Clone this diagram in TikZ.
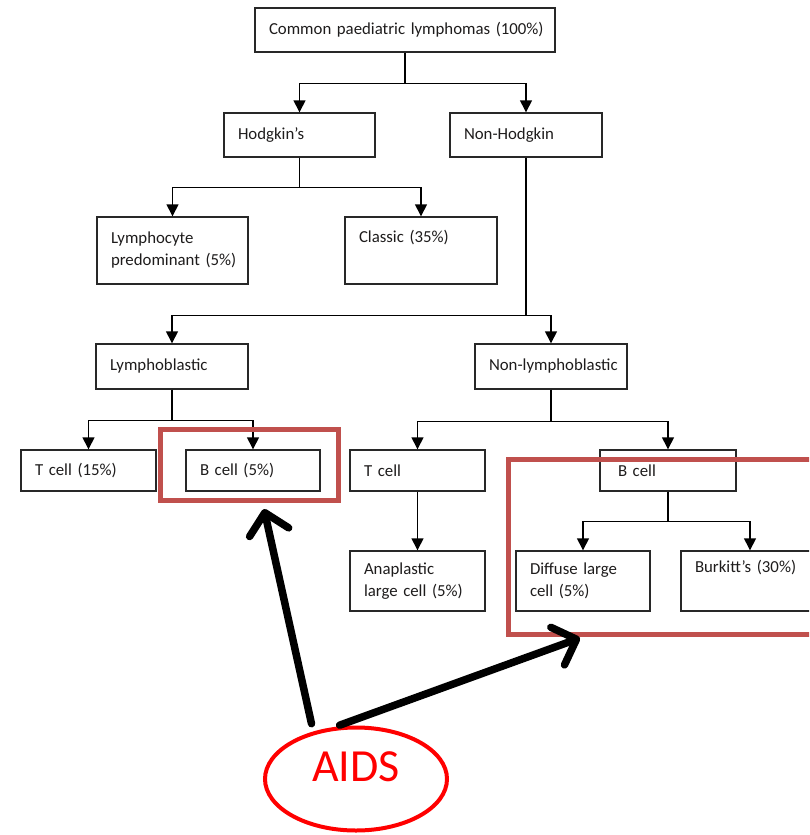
\documentclass[tikz,border=0pt]{standalone}
\usepackage{fontspec}
\setmainfont{Carlito}
\newfontfamily\aidsfont{Carlito}
\usetikzlibrary{arrows.meta,shapes.geometric}
\definecolor{boxc}{RGB}{40,40,40}
\definecolor{txtc}{RGB}{30,28,28}
\definecolor{hlred}{RGB}{192,80,77}
\begin{document}
\begin{tikzpicture}[x=1pt,y=-1pt,
  bx/.style n args={3}{draw=boxc, line width=1.4pt, rectangle, minimum width=#1, minimum height=#2, text width=#3, align=left, inner xsep=14pt, inner ysep=0pt, text=txtc, font=\fontsize{16.8}{22}\selectfont},
  conn/.style={draw=black, line width=1.4pt, -{Triangle[length=12pt,width=12pt]}},
  hl/.style={draw=hlred, line width=5pt, rectangle, inner sep=0pt},
  bigarrow/.style={line width=7.5pt, line cap=round, -{Straight Barb[length=20pt,width=40pt,line width=7.5pt,round]}}]
\clip (0,0) rectangle (809,835);
\fill[white] (0,0) rectangle (809,835);
% boxes
\node[bx={300pt}{44pt}{272pt}] (top) at (405,30) {\mbox{Common paediatric lymphomas (100\%)}};
\node[bx={151pt}{44pt}{123pt}] (hod) at (299.5,135) {Hodgkin’s};
\node[bx={152pt}{44pt}{124pt}] (nonhod) at (526,135) {Non-Hodgkin};
\node[bx={151pt}{67pt}{123pt}] (lp) at (172.5,250.5) {Lymphocyte\\\mbox{predominant (5\%)}};
\node[bx={152pt}{67pt}{124pt}] (classic) at (421,250.5) {Classic (35\%)\\\strut};
\node[bx={152pt}{45pt}{124pt}] (lb) at (172,366.5) {Lymphoblastic};
\node[bx={152pt}{45pt}{124pt}] (nlb) at (551,366.5) {\mbox{Non-lymphoblastic}};
\node[bx={135pt}{41pt}{107pt}] (tc15) at (88.5,470.5) {T cell (15\%)};
\node[bx={134pt}{41pt}{106pt}] (bc5) at (253,470.5) {B cell (5\%)};
\node[bx={135pt}{41pt}{107pt}] (tc) at (417.5,470.5) {T cell};
\node[bx={136pt}{41pt}{108pt}] (bc) at (668,470.5) {\hspace{4pt}B cell};
\node[bx={135pt}{60pt}{107pt}] (ana) at (417.5,581) {Anaplastic\\\mbox{large cell (5\%)}};
\node[bx={134pt}{60pt}{106pt}] (dlc) at (583,581) {Diffuse large\\cell (5\%)};
\node[bx={138pt}{60pt}{110pt}] (burk) at (750,581) {\mbox{Burkitt’s (30\%)}\\\strut};
% connectors
\draw[conn] (top.south) -- ++(0,31) -| (hod.north);
\draw[conn] (top.south) -- ++(0,31) -| (nonhod.north);
\draw[conn] (hod.south) -- ++(0,30) -| (lp.north);
\draw[conn] (hod.south) -- ++(0,30) -| (classic.north);
\draw[conn] (nonhod.south) -- ++(0,158) -| (lb.north);
\draw[conn] (nonhod.south) -- ++(0,158) -| (nlb.north);
\draw[conn] (lb.south) -- ++(0,31) -| (tc15.north);
\draw[conn] (lb.south) -- ++(0,31) -| (bc5.north);
\draw[conn] (nlb.south) -- ++(0,32) -| (tc.north);
\draw[conn] (nlb.south) -- ++(0,32) -| (bc.north);
\draw[conn] (tc.south) -- (ana.north);
\draw[conn] (bc.south) -- ++(0,30) -| (dlc.north);
\draw[conn] (bc.south) -- ++(0,30) -| (burk.north);
% highlights
\node[hl, minimum width=178pt, minimum height=71pt] (hl1) at (249.5,465) {};
\node[hl, minimum width=330pt, minimum height=175pt] (hl2) at (673.5,547) {};
% AIDS
\node[ellipse, draw=red, line width=4pt, minimum width=182pt, minimum height=103pt, inner sep=0pt, text=red, font=\aidsfont\fontsize{46}{46}\selectfont, text depth=24pt] (aids) at (356,779) {AIDS};
\coordinate (tip1) at (264,509);
\coordinate (tip2) at (580,638);
\draw[bigarrow, shorten <=8pt] (aids.132) -- (tip1);
\draw[bigarrow, shorten <=5pt] (aids.112) -- (tip2);
\end{tikzpicture}
\end{document}
